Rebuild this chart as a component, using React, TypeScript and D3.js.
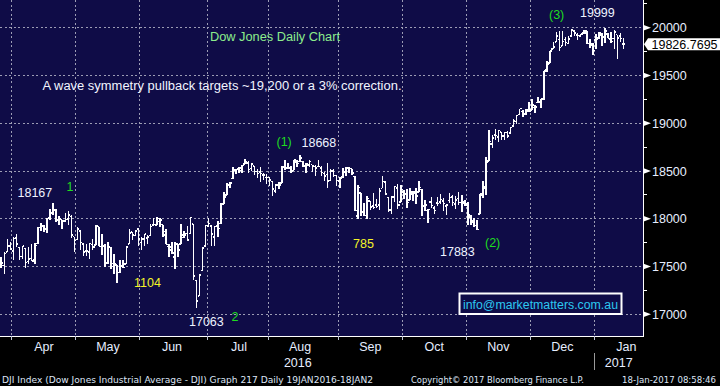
import React from "react";
import * as d3 from "d3";

const W = 720;
const H = 386;

// Trading days shown per calendar month (Mar 2016 partial ... Jan 2017 partial)
const monthNames = ["Mar", "Apr", "May", "Jun", "Jul", "Aug", "Sep", "Oct", "Nov", "Dec", "Jan"];
const monthDayCounts = [4, 21, 21, 22, 20, 23, 21, 21, 21, 21, 10];
const yearLabels = ["2016", "2017"];

const opens = [
  17526, 17512, 17652, 17716,
  17661, 17799, 17700, 17603, 17688, 17555, 17586, 17571, 17741, 17908, 17925, 17890, 18012, 18059, 18092, 17986, 17990, 17977, 17996, 18023, 17812,
  17783, 17870, 17736, 17664, 17650, 17732, 17726, 17919, 17711, 17711, 17531, 17701, 17501, 17514, 17437, 17507, 17525, 17735, 17860, 17826, 17891,
  17754, 17789, 17799, 17825, 17936, 17931, 17969, 17939, 17830, 17710, 17703, 17602, 17734, 17736, 17828, 17844, 17844, 17946, 17355, 17190, 17456, 17713,
  17924, 17925, 17807, 17924, 17949, 18157, 18251, 18361, 18419, 18514, 18520, 18505, 18573, 18582, 18525, 18554, 18494, 18489, 18460, 18432,
  18434, 18391, 18291, 18353, 18377, 18546, 18529, 18534, 18506, 18596, 18597, 18600, 18546, 18563, 18566, 18546, 18547, 18534, 18476, 18463, 18400, 18502, 18452,
  18396, 18437, 18493, 18530, 18524, 18443, 18028, 18271, 18077, 18034, 18185, 18132, 18145, 18145, 18318, 18383, 18221, 18093, 18230, 18324, 18174,
  18279, 18262, 18197, 18258, 18282, 18282, 18308, 18133, 18088, 18177, 18112, 18163, 18173, 18186, 18135, 18192, 18229, 18154, 18210, 18168, 18176,
  18161, 18017, 17979, 17928, 18052, 18251, 18317, 18603, 18781, 18876, 18858, 18909, 18866, 18905, 18898, 18970, 19016, 19093, 19122, 19092, 19139,
  19141, 19163, 19216, 19224, 19259, 19555, 19631, 19778, 19852, 19876, 19811, 19877, 19836, 19911, 19965, 19922, 19914, 19943, 19964, 19835, 19833,
  19873, 19890, 19924, 19907, 19932, 19876, 19887, 19927, 19912, 19829,
];

const highs = [
  17602, 17654, 17790, 17755,
  17811, 17838, 17700, 17717, 17688, 17704, 17731, 17744, 17918, 17952, 17939, 18009, 18103, 18167, 18105, 18027, 17990, 18056, 18084, 18035, 17814,
  17912, 17870, 17742, 17736, 17744, 17792, 17934, 17919, 17843, 17734, 17755, 17701, 17636, 17514, 17571, 17571, 17714, 17891, 17865, 17873, 17899,
  17809, 17838, 17833, 17949, 18003, 18016, 18005, 17939, 17893, 17733, 17762, 17754, 17734, 17946, 17877, 17920, 18011, 17946, 17355, 17410, 17704, 17930,
  18003, 17925, 17924, 17976, 18166, 18283, 18372, 18388, 18537, 18524, 18545, 18559, 18622, 18605, 18572, 18554, 18520, 18540, 18480, 18469,
  18434, 18391, 18361, 18386, 18553, 18612, 18584, 18552, 18619, 18611, 18668, 18600, 18588, 18614, 18566, 18565, 18617, 18548, 18487, 18587, 18522, 18524, 18452,
  18438, 18530, 18540, 18537, 18524, 18443, 18358, 18271, 18160, 18242, 18185, 18272, 18207, 18318, 18450, 18383, 18221, 18240, 18339, 18364, 18355,
  18301, 18311, 18318, 18287, 18319, 18400, 18313, 18195, 18102, 18229, 18137, 18230, 18264, 18218, 18155, 18266, 18251, 18243, 18280, 18244, 18194,
  18172, 18044, 18008, 17989, 18264, 18400, 18650, 18934, 18874, 18935, 18925, 18909, 18904, 18915, 18960, 19043, 19084, 19153, 19140, 19147, 19225,
  19249, 19196, 19274, 19253, 19549, 19650, 19757, 19852, 19954, 19967, 19967, 19899, 19917, 19987, 19966, 19942, 19936, 19980, 19964, 19878, 19843,
  19938, 19956, 19948, 19999, 19943, 19957, 19973, 19928, 19943, 19887,
];

const lows = [
  17485, 17420, 17652, 17668,
  17568, 17708, 17566, 17574, 17484, 17528, 17553, 17528, 17741, 17875, 17858, 17848, 17985, 18040, 17963, 17936, 17888, 17961, 17938, 17796, 17651,
  17773, 17670, 17611, 17615, 17580, 17672, 17726, 17711, 17625, 17490, 17531, 17469, 17418, 17331, 17437, 17480, 17525, 17735, 17779, 17824, 17713,
  17676, 17715, 17735, 17822, 17936, 17931, 17915, 17812, 17731, 17595, 17629, 17471, 17602, 17736, 17799, 17770, 17844, 17356, 17063, 17190, 17456, 17711,
  17916, 17713, 17715, 17808, 17949, 18157, 18251, 18324, 18419, 18464, 18482, 18474, 18573, 18478, 18503, 18454, 18424, 18385, 18405, 18360,
  18338, 18240, 18271, 18309, 18377, 18511, 18520, 18475, 18506, 18543, 18597, 18545, 18475, 18542, 18489, 18448, 18542, 18444, 18400, 18318, 18400, 18432, 18346,
  18322, 18429, 18448, 18483, 18457, 18085, 17995, 18030, 18024, 18000, 18087, 18097, 18110, 18096, 18318, 18254, 18075, 18050, 18176, 18106, 18174,
  18207, 18108, 18197, 18183, 18155, 18282, 18033, 18085, 17960, 18114, 18046, 18133, 18154, 18082, 18035, 18170, 18133, 18100, 18147, 18072, 18131,
  17935, 17931, 17915, 17883, 18052, 18220, 18254, 18603, 18736, 18822, 18806, 18825, 18829, 18850, 18898, 18961, 18987, 19093, 19068, 19082, 19122,
  19141, 19111, 19216, 19163, 19242, 19540, 19631, 19772, 19852, 19753, 19808, 19811, 19830, 19911, 19914, 19874, 19899, 19939, 19833, 19788, 19719,
  19775, 19878, 19811, 19845, 19887, 19836, 19775, 19677, 19850, 19782,
];

const closes = [
  17535, 17634, 17716, 17685,
  17793, 17737, 17603, 17716, 17542, 17577, 17556, 17721, 17908, 17926, 17897, 18004, 18053, 18096, 17982, 18003, 17977, 17990, 18041, 17830, 17773,
  17891, 17750, 17651, 17660, 17740, 17705, 17928, 17711, 17720, 17535, 17711, 17530, 17527, 17436, 17500, 17492, 17706, 17851, 17828, 17873, 17787,
  17790, 17838, 17807, 17920, 17938, 18005, 17985, 17865, 17733, 17675, 17640, 17733, 17675, 17805, 17829, 17780, 18011, 17400, 17140, 17410, 17695, 17930,
  17949, 17841, 17919, 17896, 18147, 18227, 18347, 18372, 18506, 18517, 18534, 18559, 18595, 18517, 18571, 18493, 18473, 18472, 18456, 18432,
  18404, 18314, 18355, 18352, 18544, 18529, 18534, 18496, 18613, 18576, 18636, 18552, 18574, 18597, 18553, 18530, 18548, 18482, 18449, 18395, 18502, 18454, 18400,
  18419, 18492, 18538, 18526, 18479, 18085, 18325, 18066, 18034, 18212, 18124, 18120, 18130, 18293, 18392, 18261, 18094, 18228, 18339, 18143, 18308,
  18253, 18168, 18281, 18268, 18240, 18329, 18129, 18144, 18099, 18138, 18086, 18162, 18203, 18162, 18145, 18223, 18169, 18199, 18170, 18161, 18142,
  18037, 17960, 17931, 17888, 18260, 18333, 18589, 18808, 18848, 18869, 18924, 18868, 18904, 18868, 18956, 19024, 19083, 19153, 19098, 19122, 19124,
  19192, 19171, 19217, 19252, 19549, 19615, 19757, 19797, 19912, 19793, 19853, 19843, 19884, 19975, 19942, 19918, 19934, 19946, 19834, 19819, 19763,
  19882, 19943, 19899, 19964, 19887, 19856, 19955, 19892, 19886, 19827,
];

const lastPrice = 19826.7695;
const majorTicks = [17000, 17500, 18000, 18500, 19000, 19500, 20000];
const minorTicks = [17250, 17750, 18250, 18750, 19250, 19750, 20250];

const annotations = [
  { text: "(1)", x: 276.5, y: 146, color: "#1fdc1f" },
  { text: "18668", x: 301.5, y: 146.5, color: "#eef3ff" },
  { text: "18167", x: 17.5, y: 197, color: "#eef3ff" },
  { text: "1", x: 66.5, y: 190.5, color: "#1fdc1f" },
  { text: "1104", x: 134, y: 287, color: "#f4f428" },
  { text: "17063", x: 189, y: 325.5, color: "#eef3ff" },
  { text: "2", x: 231.5, y: 320.5, color: "#1fdc1f" },
  { text: "785", x: 353, y: 247.5, color: "#f4f428" },
  { text: "17883", x: 440, y: 255.5, color: "#eef3ff" },
  { text: "(2)", x: 485, y: 246.5, color: "#1fdc1f" },
  { text: "(3)", x: 549, y: 18.5, color: "#1fdc1f" },
  { text: "19999", x: 580, y: 17, color: "#eef3ff" },
];

const FONT = "'Liberation Sans', Arial, Helvetica, sans-serif";

export default function App() {
  const plotRight = 643;
  const plotBottom = 336;
  const n = closes.length;
  const step = 3.05;
  const x = d3.scaleLinear().domain([0, n - 1]).range([1.2, 1.2 + (n - 1) * step]);
  const y = d3.scaleLinear().domain([17000, 20000]).range([314.3, 27.7]);

  const starts = d3.cumsum(monthDayCounts);
  const boundaries = monthNames.slice(1).map((name, k) => ({
    name,
    x: x(starts[k] - 0.5),
  }));
  const halfMonth = 10.5 * step;
  const janX = boundaries[boundaries.length - 1].x;

  const gridColor = "#9c9cb4";
  const labelColor = "#e6eeff";

  return (
    <div style={{ position: "fixed", left: 0, top: 0 }}>
      <style>{"body{margin:0;background:#000}"}</style>
      <svg width={W} height={H} style={{ display: "block", fontFamily: FONT }}>
        <rect x={0} y={0} width={W} height={H} fill="#000" />
        <rect x={0} y={0} width={plotRight} height={plotBottom} fill="#0f0c47" />

        {/* grid */}
        <g stroke={gridColor} strokeWidth={1} strokeDasharray="2,2.5" shapeRendering="crispEdges">
          {majorTicks.map((t) => (
            <line key={t} x1={0} x2={plotRight} y1={y(t)} y2={y(t)} />
          ))}
          {boundaries.map((b) => (
            <line key={b.name} x1={b.x} x2={b.x} y1={0} y2={plotBottom} />
          ))}
        </g>

        {/* OHLC bars */}
        <g stroke="#ffffff" strokeWidth={1.5} fill="none" shapeRendering="crispEdges">
          {closes.map((c, i) => {
            const cx = x(i);
            return (
              <g key={i}>
                <line x1={cx} x2={cx} y1={y(highs[i])} y2={y(lows[i])} />
                <line x1={cx - 1.8} x2={cx} y1={y(opens[i])} y2={y(opens[i])} />
                <line x1={cx} x2={cx + 1.8} y1={y(c)} y2={y(c)} />
              </g>
            );
          })}
        </g>

        {/* chart texts */}
        <text x={210} y={41.2} fill="#8cec8c" fontSize={12.5} textLength={130} lengthAdjust="spacingAndGlyphs">
          Dow Jones Daily Chart
        </text>
        <text x={42.5} y={90.2} fill="#f2f5ff" fontSize={12.5} textLength={359} lengthAdjust="spacingAndGlyphs">
          A wave symmetry pullback targets ~19,200 or a 3% correction.
        </text>
        {annotations.map((a, i) => (
          <text key={i} x={a.x} y={a.y} fill={a.color} fontSize={12.5}>
            {a.text}
          </text>
        ))}

        {/* info box */}
        <rect x={459.5} y={293.5} width={162} height={20.5} fill="#0f0c47" stroke="#ffffff" strokeWidth={2} />
        <text x={463} y={308.6} fill="#2cc8f0" fontSize={12.5} textLength={155} lengthAdjust="spacingAndGlyphs">
          info@marketmatters.com.au
        </text>

        {/* axes lines */}
        <line x1={0} x2={plotRight + 0.5} y1={plotBottom} y2={plotBottom} stroke="#ffffff" strokeWidth={1} shapeRendering="crispEdges" />
        <line x1={plotRight} x2={plotRight} y1={0} y2={plotBottom} stroke="#ffffff" strokeWidth={1} shapeRendering="crispEdges" />

        {/* x ticks and labels */}
        {boundaries.map((b) => (
          <line key={b.name} x1={b.x} x2={b.x} y1={plotBottom} y2={plotBottom + 4} stroke="#bfc4d8" strokeWidth={1} shapeRendering="crispEdges" />
        ))}
        {boundaries.map((b) => (
          <text key={b.name} x={b.x + halfMonth} y={351} fill={labelColor} fontSize={12.5} textAnchor="middle">
            {b.name}
          </text>
        ))}
        <text x={(x(0) + janX) / 2} y={366.5} fill={labelColor} fontSize={12.5} textAnchor="middle">
          {yearLabels[0]}
        </text>
        <line x1={janX} x2={janX} y1={353} y2={370} stroke="#9a9a9a" strokeWidth={1} shapeRendering="crispEdges" />
        <text x={(janX + plotRight) / 2} y={366.5} fill={labelColor} fontSize={12.5} textAnchor="middle">
          {yearLabels[1]}
        </text>

        {/* y axis */}
        {minorTicks.map((t) => (
          <line key={t} x1={plotRight} x2={plotRight + 4} y1={y(t)} y2={y(t)} stroke="#ffffff" strokeWidth={1} shapeRendering="crispEdges" />
        ))}
        {majorTicks.map((t) => (
          <g key={t}>
            <polygon
              points={`${plotRight},${y(t) - 3} ${plotRight + 8},${y(t)} ${plotRight},${y(t) + 3}`}
              fill="#ffffff"
            />
            <text x={652} y={y(t) + 4.5} fill={labelColor} fontSize={12.5}>
              {t}
            </text>
          </g>
        ))}

        {/* last price tag */}
        <polygon
          points={`${plotRight + 1},${y(lastPrice)} ${plotRight + 5},${y(lastPrice) - 6} ${W},${y(lastPrice) - 6} ${W},${y(lastPrice) + 6} ${plotRight + 5},${y(lastPrice) + 6}`}
          fill="#ffffff"
        />
        <text x={651.5} y={y(lastPrice) + 4.5} fill="#000000" fontSize={12.5}>
          {lastPrice.toFixed(4)}
        </text>

        {/* footer */}
        <g fill="#dfe6f6" fontSize={9} fontFamily="'DejaVu Sans', Verdana, sans-serif">
          <text x={2} y={382.5} textLength={371} lengthAdjust="spacingAndGlyphs">
            DJI Index (Dow Jones Industrial Average - DJI) Graph 217  Daily 19JAN2016-18JAN2
          </text>
          <text x={411} y={382.5} textLength={173} lengthAdjust="spacingAndGlyphs">
            Copyright© 2017 Bloomberg Finance L.P.
          </text>
          <text x={622} y={382.5} textLength={94} lengthAdjust="spacingAndGlyphs">
            18-Jan-2017 08:58:46
          </text>
        </g>
      </svg>
    </div>
  );
}
